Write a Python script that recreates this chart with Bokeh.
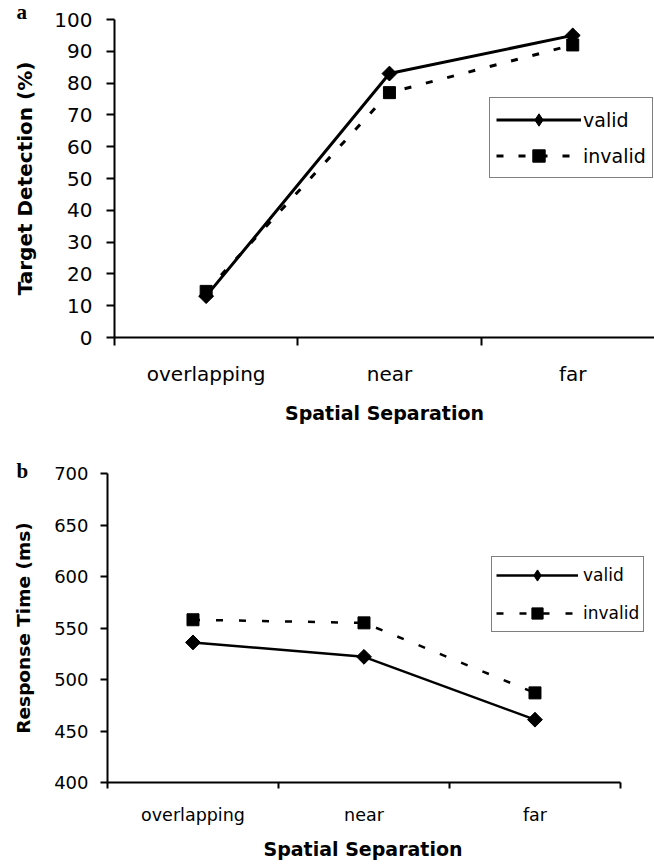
import numpy as np
from bokeh.plotting import figure
from bokeh.models import Range1d, FixedTicker, Legend, LegendItem, Title
from bokeh.embed import file_html
from bokeh.resources import INLINE

# ---- data ----
categories = ["overlapping", "near", "far"]
detect_valid = [13, 83, 95]
detect_invalid = [14.5, 77, 92]
rt_valid = [536, 522, 461]
rt_invalid = [558, 555, 487]
detect_ticks = list(range(0, 101, 10))
rt_ticks = list(range(400, 701, 50))
series_labels = ["valid", "invalid"]
panel_letters = ["a", "b"]
x_title = "Spatial Separation"

xs = [i + 0.5 for i in range(len(categories))]
bounds = list(range(len(categories) + 1))


def style_axes(p, tick_font, cat_font, ytitle, ytitle_font, xtitle_font,
               yticks, ytick_out, ystand, ytitle_stand, xtick_out, xstand, xtitle_stand,
               use_axis_title=True):
    p.xgrid.visible = False
    p.ygrid.visible = False
    p.outline_line_color = None
    xa = p.xaxis[0]
    xa.ticker = FixedTicker(ticks=xs, minor_ticks=bounds)
    xa.bounds = (bounds[0], bounds[-1])
    xa.major_label_overrides = {x: c for x, c in zip(xs, categories)}
    xa.major_tick_line_color = None
    xa.major_tick_out = 0
    xa.major_tick_in = 0
    xa.minor_tick_out = xtick_out
    xa.minor_tick_in = 0
    xa.minor_tick_line_width = 2
    xa.minor_tick_line_color = "black"
    xa.axis_line_width = 2
    xa.axis_line_color = "black"
    xa.major_label_text_font = "DejaVu Sans"
    xa.major_label_text_font_size = cat_font
    xa.major_label_text_color = "black"
    xa.major_label_standoff = xstand
    if use_axis_title:
        xa.axis_label = x_title
        xa.axis_label_text_font = "DejaVu Sans"
        xa.axis_label_text_font_style = "bold"
        xa.axis_label_text_font_size = xtitle_font
        xa.axis_label_text_color = "black"
        xa.axis_label_standoff = xtitle_stand

    ya = p.yaxis[0]
    ya.ticker = FixedTicker(ticks=yticks, minor_ticks=[])
    ya.major_tick_out = ytick_out
    ya.major_tick_in = 0
    ya.major_tick_line_width = 2
    ya.major_tick_line_color = "black"
    ya.axis_line_width = 2
    ya.axis_line_color = "black"
    ya.major_label_text_font = "DejaVu Sans"
    ya.major_label_text_font_size = tick_font
    ya.major_label_text_color = "black"
    ya.major_label_standoff = ystand
    ya.axis_label = ytitle
    ya.axis_label_text_font = "DejaVu Sans"
    ya.axis_label_text_font_style = "bold"
    ya.axis_label_text_font_size = ytitle_font
    ya.axis_label_text_color = "black"
    ya.axis_label_standoff = ytitle_stand


def add_series(p, yv, yi, lw, dash, dsize, ssize):
    l1 = p.line(xs, yv, line_width=lw, color="black")
    # narrow diamond under the rotated square: used for the legend glyph
    dleg = p.scatter(xs, yv, marker="diamond", size=dsize * 1.3, color="black")
    p.scatter(xs, yv, marker="square", angle=np.pi / 4, size=dsize, color="black")
    l2 = p.line(xs, yi, line_width=lw, color="black", line_dash=dash)
    s2 = p.scatter(xs, yi, marker="square", size=ssize, color="black")
    return [LegendItem(label=series_labels[0], renderers=[l1, dleg]),
            LegendItem(label=series_labels[1], renderers=[l2, s2])]


def letter_title(text, offset, standoff):
    return Title(text=text, align="left", offset=offset, standoff=standoff,
                 text_font="Liberation Serif", text_font_style="bold",
                 text_font_size="21px", text_color="black")


# ---- panel a ----
p1 = figure(width=654, height=430, x_range=Range1d(0, 2.946), y_range=Range1d(0, 100),
            output_backend="svg", toolbar_location=None,
            title=letter_title(panel_letters[0], -98, -8),
            min_border_left=114, min_border_right=0, min_border_top=19, min_border_bottom=93)
style_axes(p1, "20px", "20px", "Target Detection (%)", "20px", "19px",
           detect_ticks, 8, 14, 14, 8, 16, 13)
items1 = add_series(p1, detect_valid, detect_invalid, 3, "7 15", 10.5, 12)
leg1 = Legend(items=items1, location=(375, 159), glyph_width=85, glyph_height=31,
              label_height=31, spacing=5, padding=6, margin=0, label_standoff=2,
              border_line_color="black", border_line_width=1.5,
              label_text_font="DejaVu Sans", label_text_font_size="19px",
              label_text_color="black", background_fill_alpha=1)
p1.add_layout(leg1)

# ---- panel b ----
p2 = figure(width=654, height=437, x_range=Range1d(0, 3.199), y_range=Range1d(400, 700),
            output_backend="svg", toolbar_location=None,
            title=letter_title(panel_letters[1], -91, -18),
            min_border_left=107, min_border_right=0, min_border_top=43, min_border_bottom=85)
style_axes(p2, "18px", "17.5px", "Response Time (ms)", "18.5px", "19px",
           rt_ticks, 7, 12, 17, 6, 16, 12, use_axis_title=False)
p2.add_layout(Title(text=x_title, align="left", offset=156, standoff=16,
                    text_font="DejaVu Sans", text_font_style="bold",
                    text_font_size="19px", text_color="black"), "below")
items2 = add_series(p2, rt_valid, rt_invalid, 2.5, "7 16", 10.5, 12)
leg2 = Legend(items=items2, location=(384, 150), glyph_width=82, glyph_height=28,
              label_height=28, spacing=10, padding=4, margin=0, label_standoff=5,
              border_line_color="black", border_line_width=1.5,
              label_text_font="DejaVu Sans", label_text_font_size="17px",
              label_text_color="black", background_fill_alpha=1)
p2.add_layout(leg2)

open("out.html", "w").write(file_html([p1, p2], INLINE))
